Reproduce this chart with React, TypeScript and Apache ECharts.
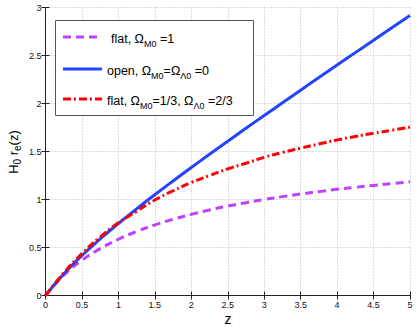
import React, { useEffect, useRef } from "react";
import * as echarts from "echarts";

// redshift samples
const zValues = [0, 0.25, 0.5, 0.75, 1, 1.25, 1.5, 1.75, 2, 2.25, 2.5, 2.75, 3, 3.25, 3.5, 3.75, 4, 4.25, 4.5, 4.75, 5];
// flat, Omega_M0 = 1
const flatMatter = [0, 0.211, 0.367, 0.488, 0.586, 0.667, 0.735, 0.794, 0.845, 0.891, 0.931, 0.967, 1.0, 1.03, 1.057, 1.082, 1.106, 1.127, 1.147, 1.166, 1.184];
// open, Omega_M0 = Omega_L0 = 0
const openEmpty = [0, 0.225, 0.417, 0.589, 0.75, 0.903, 1.05, 1.193, 1.333, 1.471, 1.607, 1.742, 1.875, 2.007, 2.139, 2.27, 2.4, 2.53, 2.659, 2.788, 2.917];
// flat, Omega_M0 = 1/3, Omega_L0 = 2/3
const flatLambda = [0, 0.234, 0.436, 0.609, 0.757, 0.876, 0.995, 1.091, 1.177, 1.25, 1.319, 1.378, 1.439, 1.49, 1.535, 1.578, 1.62, 1.657, 1.69, 1.721, 1.754];

const xTicks = { min: 0, max: 5, interval: 0.5 };
const yTicks = { min: 0, max: 3, interval: 0.5 };

const legendItems = [
  { text: "{m|flat, Ω}{s|M0}{m| =1}", color: "#bf40ff", dash: [8, 5] },
  { text: "{m|open, Ω}{s|M0}{m|=Ω}{s|Λ0}{m| =0}", color: "#2244ff", dash: null },
  { text: "{m|flat, Ω}{s|M0}{m|=1/3, Ω}{s|Λ0}{m| =2/3}", color: "#ff0000", dash: [8, 3, 2, 3] },
];

const FONT = "'Liberation Sans', Arial, Helvetica, sans-serif";

export default function App() {
  const ref = useRef<HTMLDivElement>(null);
  useEffect(() => {
    if (!ref.current) return;
    const chart = echarts.init(ref.current, undefined, { renderer: "svg" });
    const pairs = (ys: number[]) => zValues.map((z, i) => [z, ys[i]]);
    const axisCommon = {
      type: "value" as const,
      axisLine: { show: true, lineStyle: { color: "#222", width: 1 } },
      axisTick: { show: true, inside: true, length: 4, lineStyle: { color: "#222" } },
    };
    const richText = {
      m: { fontSize: 12.5, fontFamily: FONT, color: "#000", lineHeight: 18, verticalAlign: "middle" },
      s: { fontSize: 9, fontFamily: FONT, color: "#000", lineHeight: 9, verticalAlign: "bottom" },
    };
    const legendGraphics: any[] = [
      {
        type: "rect",
        shape: { x: 55.5, y: 20.5, width: 198, height: 95 },
        style: { fill: "#fff", stroke: "#555", lineWidth: 1 },
        z: 100,
      },
    ];
    const rowY = [37, 69, 99];
    const textX = [111, 107, 107];
    legendItems.forEach((it, i) => {
      legendGraphics.push({
        type: "line",
        shape: { x1: 63, y1: rowY[i], x2: 102, y2: rowY[i] },
        style: { stroke: it.color, lineWidth: 3, lineDash: it.dash || undefined },
        z: 101,
      });
      legendGraphics.push({
        type: "text",
        x: textX[i],
        y: rowY[i] + 2,
        style: { text: it.text, rich: richText, align: "left", verticalAlign: "middle" },
        z: 101,
      });
    });
    chart.setOption({
      animation: false,
      grid: { left: 45.5, right: 6, top: 7.5, bottom: 31.5, containLabel: false },
      xAxis: [
        {
          ...axisCommon,
          position: "bottom",
          ...xTicks,
          axisLabel: { fontSize: 9, color: "#111", fontFamily: FONT, margin: 5 },
          splitLine: { show: true, lineStyle: { color: "#bbb", type: [1, 2], width: 1 } },
        },
        {
          ...axisCommon,
          position: "top",
          ...xTicks,
          axisLabel: { show: false },
          splitLine: { show: false },
        },
      ],
      yAxis: [
        {
          ...axisCommon,
          position: "left",
          ...yTicks,
          axisLabel: { fontSize: 9, color: "#111", fontFamily: FONT, margin: 4 },
          splitLine: { show: true, lineStyle: { color: "#bbb", type: [1, 2], width: 1 } },
        },
        {
          ...axisCommon,
          position: "right",
          ...yTicks,
          axisLabel: { show: false },
          splitLine: { show: false },
        },
      ],
      series: [
        {
          type: "line",
          data: pairs(flatMatter),
          smooth: true,
          symbol: "none",
          lineStyle: { color: "#bf40ff", width: 3, type: [8, 5] },
          z: 2,
        },
        {
          type: "line",
          data: pairs(openEmpty),
          smooth: true,
          symbol: "none",
          lineStyle: { color: "#2244ff", width: 3 },
          z: 3,
        },
        {
          type: "line",
          data: pairs(flatLambda),
          smooth: true,
          symbol: "none",
          lineStyle: { color: "#ff0000", width: 3, type: [8, 3, 2, 3] },
          z: 4,
        },
      ],
      graphic: [
        ...legendGraphics,
        {
          type: "text",
          x: 228,
          y: 319,
          style: { text: "z", fontSize: 14, fontFamily: FONT, fill: "#000", align: "center", verticalAlign: "middle" },
        },
        {
          type: "text",
          x: 13,
          y: 152,
          rotation: Math.PI / 2,
          style: {
            text: "{m|H}{s|0}{m| r}{s|e}{m|(z)}",
            rich: {
              m: { fontSize: 13, fontFamily: FONT, color: "#000", lineHeight: 18, verticalAlign: "middle" },
              s: { fontSize: 10, fontFamily: FONT, color: "#000", lineHeight: 10, verticalAlign: "bottom" },
            },
            align: "center",
            verticalAlign: "middle",
          },
        },
      ],
    });
    return () => chart.dispose();
  }, []);
  return <div ref={ref} style={{ width: 416, height: 327, position: "absolute", left: 0, top: 0, background: "#fff" }} />;
}
